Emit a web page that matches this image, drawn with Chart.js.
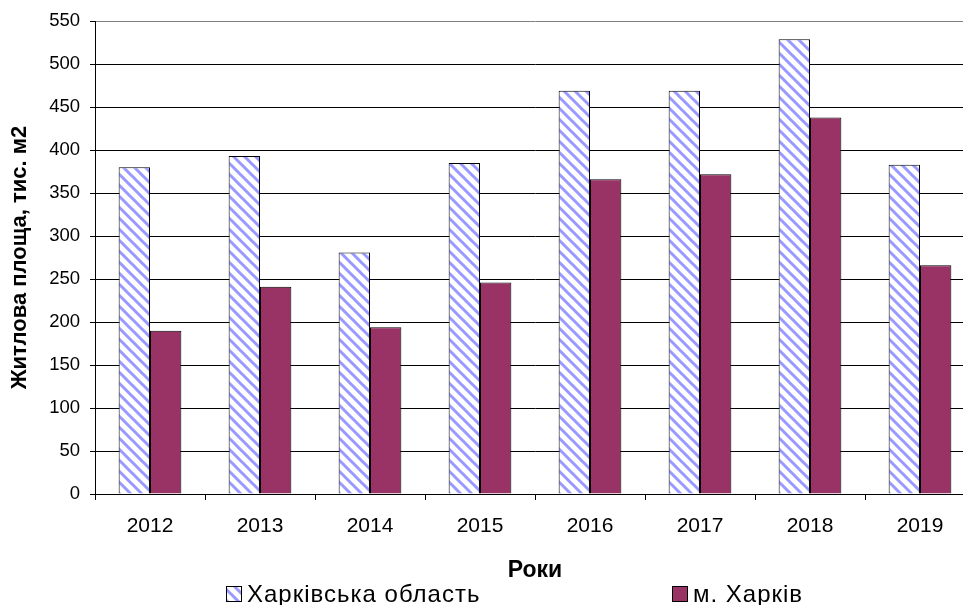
<!DOCTYPE html>
<html>
<head>
<meta charset="utf-8">
<script src="https://cdn.jsdelivr.net/npm/chart.js@4.4.1/dist/chart.umd.min.js"></script>
<style>
    html, body { margin: 0; padding: 0; background: #ffffff; overflow: hidden; }
    #wrap { width: 975px; height: 605px; }
</style>
</head>
<body>
<div id="wrap"><canvas id="housingChart"></canvas></div>
<script>
// Data
const years = ['2012', '2013', '2014', '2015', '2016', '2017', '2018', '2019'];
const regionValues = [380, 393, 281, 385, 469, 469, 529, 383];
const cityValues = [190, 241, 194, 246, 366, 372, 438, 266];
const seriesNames = ['Харківська область', 'м. Харків'];

const FONT = 'Arial, "Liberation Sans", sans-serif';

// Diagonal blue hatch like the old Excel fill
function makeHatch() {
    const size = 11;
    const c = document.createElement('canvas');
    c.width = size;
    c.height = size;
    const g = c.getContext('2d');
    g.fillStyle = '#ffffff';
    g.fillRect(0, 0, size, size);
    g.strokeStyle = '#9999ff';
    g.lineWidth = 3;
    g.beginPath();
    g.moveTo(-2, -2); g.lineTo(size + 2, size + 2);
    g.moveTo(-2, size - 2); g.lineTo(2, size + 2);
    g.moveTo(size - 2, -2); g.lineTo(size + 2, 2);
    g.stroke();
    return g.createPattern(c, 'repeat');
}

const hatch = makeHatch();

// Legend drawn by hand so the two items keep their wide spacing
const bottomLegend = {
    id: 'bottomLegend',
    afterDraw(chart) {
        const ctx = chart.ctx;
        const items = [
            { text: seriesNames[0], fill: hatch, x: 226 },
            { text: seriesNames[1], fill: '#993366', x: 672 }
        ];
        const y = 594;
        ctx.save();
        ctx.font = '24px ' + FONT;
        ctx.letterSpacing = '1px';
        ctx.textBaseline = 'middle';
        ctx.textAlign = 'left';
        items.forEach(item => {
            ctx.fillStyle = item.fill;
            ctx.fillRect(item.x, y - 8, 15, 15);
            ctx.strokeStyle = '#000000';
            ctx.lineWidth = 1;
            ctx.strokeRect(item.x + 0.5, y - 7.5, 15, 15);
            ctx.fillStyle = '#000000';
            ctx.fillText(item.text, item.x + 21, y + 1);
        });
        ctx.restore();
    }
};

new Chart(document.getElementById('housingChart'), {
    type: 'bar',
    data: {
        labels: years,
        datasets: [{
            label: seriesNames[0],
            data: regionValues,
            backgroundColor: hatch,
            borderColor: '#000000',
            borderWidth: 1,
            categoryPercentage: 0.57,
            barPercentage: 1
        }, {
            label: seriesNames[1],
            data: cityValues,
            backgroundColor: '#993366',
            borderColor: '#000000',
            borderWidth: 1,
            categoryPercentage: 0.57,
            barPercentage: 1
        }]
    },
    options: {
        responsive: true,
        maintainAspectRatio: false,
        animation: false,
        layout: { padding: { top: 21, right: 0, bottom: 21, left: 0 } },
        plugins: {
            legend: { display: false },
            tooltip: { enabled: false }
        },
        scales: {
            x: {
                grid: {
                    display: true,
                    drawOnChartArea: false,
                    color: '#000000',
                    tickLength: 6,
                    tickColor: '#000000'
                },
                border: { color: '#000000', width: 1 },
                ticks: {
                    color: '#000000',
                    font: { family: FONT, size: 21 },
                    padding: 14,
                    maxRotation: 0
                },
                title: {
                    display: true,
                    text: 'Роки',
                    color: '#000000',
                    font: { family: FONT, size: 23, weight: 'bold' },
                    padding: { top: 0, bottom: 0 }
                },
                afterFit(scale) { scale.height = 90; }
            },
            y: {
                min: 0,
                max: 550,
                grid: {
                    color: ctx => ctx.tick && ctx.tick.value === 550 ? '#808080' : '#000000',
                    lineWidth: 1,
                    tickLength: 5,
                    tickColor: '#000000'
                },
                border: { color: '#000000', width: 1 },
                ticks: {
                    stepSize: 50,
                    color: '#000000',
                    font: { family: FONT, size: 18.5 },
                    padding: 10
                },
                title: {
                    display: true,
                    text: 'Житлова площа, тис. м2',
                    color: '#000000',
                    font: { family: FONT, size: 22, weight: 'bold' },
                    padding: { top: 7, bottom: 0 }
                },
                afterFit(scale) { scale.width = 95; }
            }
        }
    },
    plugins: [bottomLegend]
});
</script>
</body>
</html>
